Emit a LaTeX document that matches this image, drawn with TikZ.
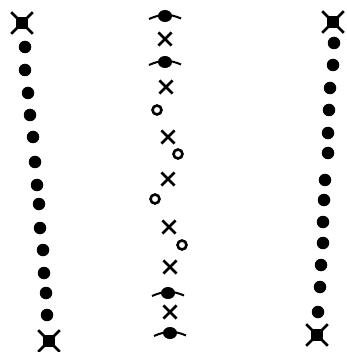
\documentclass[tikz,border=0pt]{standalone}
\usepackage{tikz}
\usetikzlibrary{shapes.misc,shapes.geometric}
\tikzset{
  dotm/.style={circle,fill,inner sep=0pt,minimum size=12.5pt},
  xm/.style={cross out,draw,line width=2.7pt,inner sep=0pt,minimum size=10.5pt},
  om/.style={circle,draw,line width=2.6pt,inner sep=0pt,minimum size=9pt},
  starm/.style={rectangle,fill,inner sep=0pt,minimum size=11.5pt,
    label={[cross out,draw,line width=2.6pt,inner sep=0pt,minimum size=19pt]center:}},
  bardot/.style={ellipse,fill,inner sep=0pt,minimum width=14pt,minimum height=12pt},
  bar/.style={line width=2pt}
}
\begin{document}
\begin{tikzpicture}[x=1pt,y=-1pt]
  \useasboundingbox (0,0) rectangle (346,352);
  % left column
  \node[starm] (L0) at (22,23) {};
  \foreach \x/\y [count=\i] in {25/47,25/70,28/93,30/115,33/137,35/162,37/185,39/204,40/228,43/250,44/273,46/293,47/315}
    \node[dotm] (L\i) at (\x,\y) {};
  \node[starm] (L14) at (49,341) {};
  % right column
  \node[starm] (R0) at (333,22) {};
  \foreach \x/\y [count=\i] in {334/43,333/65,330/88,329/110,328/133,328/153,325/180,324/200,323/222,323/243,321/265,320/287,318/312}
    \node[dotm] (R\i) at (\x,\y) {};
  \node[starm] (R14) at (317,335) {};
  % middle column
  \foreach \n/\x/\y in {1/165/16,3/165/62,13/168/293,15/170/333} {
    \node[bardot] (M\n) at (\x,\y) {};
    \draw[bar] ([shift={(-16,3)}]M\n.center) to[out=24,in=156] ([shift={(16,2.5)}]M\n.center);
  }
  \foreach \n/\x/\y in {2/165/39,4/166/87,6/168/137,8/168/179,10/169/227,12/170/267,14/170/312}
    \node[xm] (M\n) at (\x,\y) {};
  \foreach \n/\x/\y in {5/157/110,7/178/154,9/155/199,11/182/245}
    \node[om] (M\n) at (\x,\y) {};
\end{tikzpicture}
\end{document}
